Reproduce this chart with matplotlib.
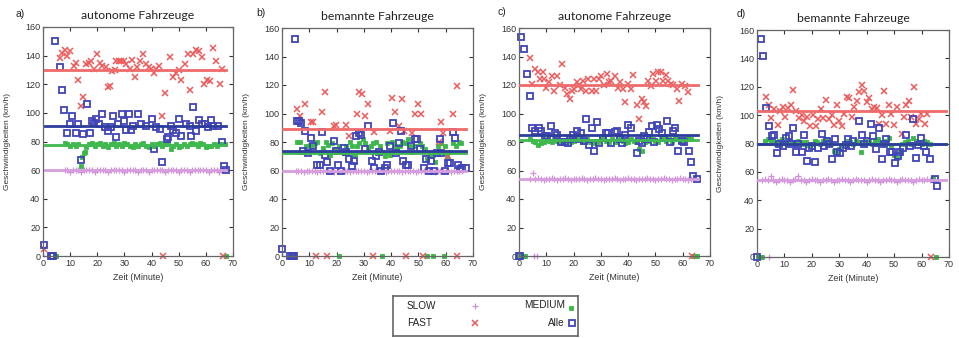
import matplotlib
matplotlib.use("Agg")
import matplotlib.pyplot as plt
import numpy as np

plt.rcParams["font.family"] = ["Liberation Sans", "DejaVu Sans"]

# ---------------- data ----------------
# panel a) autonome Fahrzeuge
A_ALLE_T = [0.3, 2.8, 3.3, 3.8, 4.5, 6.1, 7.0, 7.7, 9.0, 10.0, 10.8, 12.0, 13.0, 13.9, 14.7,
            16.3, 17.2, 18.0, 18.8, 19.7, 20.5, 21.7, 23.0, 24.0, 25.2, 25.8, 26.8, 27.6, 29.0,
            30.0, 30.7, 31.7, 32.6, 33.2, 35.1, 36.2, 38.0, 40.0, 40.8, 41.8, 43.0, 44.0, 45.5,
            46.0, 47.3, 48.0, 49.1, 50.0, 51.0, 52.5, 54.0, 54.7, 55.3, 56.5, 57.4, 58.4, 59.6,
            60.8, 62.0, 62.7, 64.5, 65.8, 66.6, 67.6]
A_ALLE = [8, 0, 0, 0, 150, 132, 116, 102, 86, 92, 98, 86, 92, 67, 85,
          106, 86, 94, 93, 96, 92, 99, 90, 87, 90, 98, 83, 92, 99,
          94, 88, 99, 88, 91, 99, 92, 91, 96, 75, 90, 89, 66, 82,
          83, 91, 88, 86, 96, 84, 92, 91, 84, 104, 87, 95, 92, 92,
          90, 95, 91, 91, 80, 63, 60]
A_FAST_T = [0.3, 6.1, 7.0, 8.0, 9.0, 9.8, 11.3, 12.0, 12.9, 13.9, 14.7, 15.7, 16.8, 17.8, 18.9,
            19.9, 20.9, 21.9, 23.1, 24.0, 24.8, 25.6, 26.4, 27.0, 28.0, 28.9, 29.7, 30.7, 31.9,
            32.8, 33.8, 34.8, 35.9, 36.9, 38.1, 39.0, 39.9, 40.8, 41.8, 42.8, 44.0, 44.2, 45.1,
            46.9, 47.9, 48.9, 50.0, 51.0, 52.2, 53.4, 54.3, 55.3, 56.5, 57.4, 58.4, 59.2, 60.4,
            61.4, 62.7, 63.9, 65.1, 66.1, 66.3]
A_FAST = [5, 138, 142, 144, 140, 143, 133, 135, 123, 105, 111, 134, 135, 136, 131,
          141, 135, 133, 132, 118, 119, 129, 130, 136, 136, 136, 136, 134, 131,
          137, 125, 132, 136, 141, 134, 132, 131, 128, 131, 133, 98, 0, 114,
          139, 125, 128, 130, 123, 134, 141, 116, 141, 144, 143, 139, 120, 123,
          122, 145, 136, 120, 131, 0]
A_MEDIUM_T = [4.3, 4.8] + list(range(8, 68)) + [14.5, 15.3, 67.6]
A_MEDIUM = [0, 0,
            79, 78, 77, 78, 77, 78, 63, 72, 76, 78, 79, 77, 78, 79, 77, 78, 76, 78,
            79, 77, 78, 77, 79, 78, 77, 76, 78, 77, 78, 79, 77, 76, 78, 77, 78, 79,
            77, 78, 79, 75, 77, 78, 76, 77, 78, 77, 78, 79, 78, 77, 79, 78, 76, 77,
            77, 78, 77, 78, 78, 78,
            69, 73, 0]
A_SLOW_T = list(range(8, 68))
A_SLOW = [60, 60, 59, 60, 60, 60, 59, 60, 60, 60, 60, 59, 60, 60, 60, 60, 59, 60, 60, 60,
          60, 60, 59, 60, 60, 60, 60, 59, 60, 60, 60, 59, 60, 60, 60, 60, 60, 59, 60, 60,
          60, 60, 59, 60, 60, 60, 59, 60, 60, 60, 60, 60, 60, 59, 60, 60, 60, 59, 60, 60]
A_MEANS = {"SLOW": 60, "MEDIUM": 77.5, "FAST": 130, "Alle": 91}
A_SPAN = (0.8, 67.5)

# panel b) bemannte Fahrzeuge
B_ALLE_T = [0.1, 3.0, 3.5, 4.0, 4.5, 4.6, 5.5, 6.2, 7.1, 7.7, 8.5, 9.5, 10.5, 11.4, 12.9, 13.8,
            14.7, 15.6, 16.5, 17.5, 18.9, 19.9, 20.5, 21.7, 22.7, 23.6, 24.4, 25.6, 26.4, 27.2,
            28.1, 29.0, 30.3, 31.5, 33.0, 33.7, 34.6, 35.5, 36.4, 37.6, 38.6, 39.7, 40.7, 41.9,
            42.7, 43.7, 44.3, 45.3, 46.2, 47.4, 48.6, 49.6, 50.7, 51.9, 52.9, 53.8, 54.7, 55.7,
            56.8, 57.8, 58.4, 59.8, 60.8, 61.7, 62.6, 63.5, 64.5, 65.3, 66.0, 67.3]
B_ALLE = [5, 0, 0, 0, 0, 152, 95, 95, 93, 74, 88, 72, 83, 77, 64, 64,
          87, 71, 66, 60, 81, 74, 64, 60, 76, 73, 68, 63, 67, 84,
          86, 85, 75, 91, 67, 62, 70, 73, 60, 62, 64, 77, 93, 72,
          79, 88, 67, 64, 64, 77, 82, 82, 75, 62, 68, 60, 67, 60,
          72, 82, 72, 60, 65, 65, 87, 83, 64, 61, 62, 62]
B_FAST_T = [5.5, 6.5, 8.5, 10.5, 11.4, 12.5, 14.8, 15.6, 16.5, 19.0, 19.9, 23.3, 24.4, 27.6,
            28.4, 29.4, 30.3, 31.5, 33.5, 33.9, 39.4, 40.4, 41.3, 42.9, 44.0, 44.7, 45.5, 47.7,
            48.9, 49.8, 51.0, 51.5, 57.4, 58.1, 59.0, 61.0, 62.6, 64.2, 64.0]
B_FAST = [103, 98, 107, 94, 94, 0, 101, 115, 0, 91, 92, 92, 84, 100,
          115, 114, 98, 107, 0, 87, 88, 111, 101, 91, 110, 88, 0, 86,
          100, 107, 100, 0, 80, 94, 86, 70, 100, 119, 0]
B_MEDIUM_T = [3.8, 4.4, 21.0, 36.5, 53.0, 55.5, 59.5,
              5.6, 6.5, 8.9, 10.1, 11.1, 12.0, 12.8, 13.8, 15.0, 16.0, 16.8, 17.5, 18.4, 19.3,
              20.9, 21.7, 22.6, 23.6, 24.8, 25.6, 26.6, 27.6, 28.4, 29.7, 30.6, 31.7, 32.5,
              33.3, 34.6, 35.8, 36.8, 37.6, 38.6, 39.4, 40.4, 41.3, 42.2, 43.1, 44.1, 45.2,
              46.2, 47.0, 47.7, 48.6, 50.4, 51.4, 52.3, 53.1, 54.1, 55.3, 56.2, 57.1, 58.4,
              59.6, 60.4, 61.7, 62.6, 63.9, 64.8, 65.7]
B_MEDIUM = [0, 0, 0, 0, 0, 0, 0,
            80, 80, 77, 78, 77, 79, 80, 72, 76, 80, 78, 71, 79, 75,
            77, 73, 72, 77, 80, 77, 71, 77, 79, 82, 79, 75, 77,
            79, 80, 77, 73, 70, 79, 71, 80, 77, 75, 77, 80, 79,
            82, 77, 73, 77, 79, 77, 75, 68, 70, 71, 66, 77, 79,
            77, 70, 73, 79, 77, 80, 79]
B_SLOW_T = list(range(5, 67))
B_SLOW = [60, 60, 60, 59, 60, 60, 60, 60, 59, 60, 60, 60, 60, 60, 59, 60, 60, 60, 60, 60,
          59, 60, 60, 60, 60, 60, 59, 60, 60, 60, 60, 60, 60, 59, 60, 60, 60, 60, 60, 59,
          60, 60, 60, 60, 59, 60, 60, 60, 60, 60, 60, 59, 60, 60, 60, 60, 60, 59, 60, 60,
          60, 60]
B_MEANS = {"SLOW": 60, "MEDIUM": 72.5, "FAST": 89, "Alle": 74}
B_SPAN = (0.5, 67.5)

# panel c) autonome Fahrzeuge
C_ALLE_T = [0.0, 0.5, 0.9, 1.8, 2.9, 3.9, 4.9, 5.8, 7.3, 8.2, 9.7, 10.4, 11.9, 13.1, 14.1, 15.5,
            16.8, 18.0, 18.6, 19.8, 21.1, 21.9, 22.9, 23.7, 24.7, 25.7, 26.8, 27.4, 28.6, 29.4,
            30.8, 31.8, 32.7, 33.9, 35.1, 36.0, 37.0, 37.9, 39.0, 40.0, 41.2, 43.1, 43.9, 44.9,
            45.9, 46.8, 47.7, 48.8, 49.6, 50.4, 51.3, 52.3, 53.2, 54.3, 55.3, 56.3, 57.2, 58.4,
            59.6, 60.6, 62.3, 63.0, 63.9, 65.4]
C_ALLE = [0, 0, 154, 145, 128, 112, 90, 88, 90, 88, 84, 84, 91, 86, 85, 80,
          80, 79, 82, 85, 88, 82, 86, 81, 96, 78, 90, 74, 94, 79,
          83, 86, 86, 79, 87, 88, 82, 79, 85, 92, 90, 72, 81, 79,
          84, 82, 87, 91, 80, 92, 89, 86, 83, 95, 80, 88, 90, 74,
          81, 80, 74, 66, 56, 54]
C_FAST_T = [3.9, 4.9, 5.8, 7.0, 7.6, 8.8, 9.2, 10.0, 11.0, 12.1, 12.9, 14.1, 14.9, 15.9, 16.8,
            17.7, 18.6, 19.6, 20.2, 21.1, 21.9, 22.6, 23.5, 24.5, 25.3, 26.6, 27.4, 28.4, 29.3,
            30.2, 31.1, 32.1, 33.0, 33.9, 35.1, 36.1, 37.0, 38.2, 39.0, 40.0, 40.9, 41.9, 43.1,
            43.9, 44.9, 45.8, 46.4, 47.4, 48.2, 49.2, 50.1, 51.0, 52.0, 52.9, 53.9, 54.7, 55.7,
            56.5, 57.8, 58.6, 59.6, 60.8, 61.8, 63.5]
C_FAST = [139, 121, 131, 129, 124, 129, 124, 118, 122, 126, 116, 126, 120, 135, 118,
          114, 110, 116, 117, 122, 120, 117, 123, 116, 124, 116, 124, 116, 124,
          126, 120, 128, 122, 123, 126, 118, 122, 117, 108, 121, 117, 127, 106,
          96, 110, 108, 105, 123, 119, 128, 123, 129, 129, 123, 127, 123, 121,
          120, 117, 109, 121, 119, 115, 0]
C_MEDIUM_T = [0.2, 0.7, 1.2, 1.7, 2.2] + list(range(4, 64)) + [63.6, 64.1, 64.6, 65.1]
C_MEDIUM = [0, 0, 0, 0, 0,
            82, 81, 80, 78, 79, 80, 82, 81, 80, 82, 81, 80, 79, 81, 82, 80, 81, 83, 82, 80,
            81, 82, 80, 81, 79, 80, 82, 83, 81, 80, 82, 81, 80, 82, 81, 79, 80, 82, 81, 80,
            75, 74, 80, 81, 83, 82, 81, 80, 82, 84, 81, 82, 80, 83, 82, 81, 80, 82, 83, 82,
            0, 0, 0, 0]
C_SLOW_T = [5.5, 6.5] + list(range(4, 65))
C_SLOW = [0, 0,
          54, 58, 54, 55, 54, 53, 54, 54, 55, 54, 53, 54, 54, 55, 54, 53, 54, 54, 54, 55,
          54, 53, 54, 54, 55, 54, 54, 53, 54, 54, 54, 55, 54, 53, 54, 54, 55, 54, 54, 53,
          54, 54, 54, 55, 54, 54, 53, 54, 54, 55, 54, 54, 53, 54, 54, 55, 54, 54, 53, 54,
          54]
C_MEANS = {"SLOW": 54, "MEDIUM": 81.5, "FAST": 120, "Alle": 85}
C_SPAN = (0.5, 65.5)

# panel d) bemannte Fahrzeuge
D_ALLE_T = [0.0, 1.5, 2.2, 3.4, 4.2, 5.4, 6.1, 7.3, 8.2, 9.3, 10.5, 11.5, 12.3, 13.3, 14.3,
            15.1, 16.3, 17.3, 18.4, 19.1, 20.0, 21.2, 22.4, 23.6, 24.5, 25.4, 26.4, 27.2, 28.5,
            29.3, 30.3, 31.2, 32.4, 33.3, 34.3, 35.1, 37.3, 38.1, 39.0, 40.0, 41.4, 42.4, 43.3,
            44.3, 45.4, 46.4, 47.2, 48.4, 49.4, 50.2, 51.5, 52.1, 53.3, 54.5, 55.7, 56.7, 57.9,
            58.7, 59.7, 60.8, 61.7, 63.0, 64.8, 65.6]
D_ALLE = [0, 154, 142, 105, 92, 85, 86, 73, 80, 78, 84, 85, 80, 91, 74,
          80, 74, 86, 68, 77, 78, 67, 77, 87, 78, 82, 80, 69, 83,
          74, 73, 77, 79, 83, 78, 82, 96, 86, 80, 82, 94, 85, 76,
          91, 69, 80, 83, 74, 74, 66, 71, 74, 77, 86, 78, 97, 70,
          79, 84, 78, 74, 69, 55, 50]
D_FAST_T = [3.4, 4.2, 5.1, 6.1, 7.5, 8.5, 9.3, 10.3, 11.3, 12.3, 13.3, 14.3, 15.4, 16.3, 17.3,
            18.4, 19.4, 20.3, 21.4, 22.4, 23.4, 24.2, 25.2, 26.3, 27.2, 28.2, 29.1, 29.9, 30.9,
            31.8, 32.9, 33.7, 34.5, 35.5, 36.3, 37.3, 38.1, 39.0, 40.0, 41.0, 41.8, 42.6, 43.6,
            44.6, 45.4, 46.2, 47.2, 48.1, 49.0, 50.0, 51.1, 52.7, 53.6, 54.5, 55.5, 56.3, 57.1,
            57.9, 59.1, 59.9, 61.1, 62.0, 63.3]
D_FAST = [113, 107, 98, 104, 93, 103, 106, 99, 105, 107, 118, 103, 98, 100, 96,
          99, 92, 100, 92, 97, 104, 98, 111, 97, 100, 93, 107, 96, 92,
          101, 113, 112, 99, 106, 110, 116, 121, 117, 109, 112, 104, 106, 105,
          94, 100, 117, 94, 107, 101, 93, 106, 87, 99, 107, 110, 99, 120,
          94, 97, 101, 94, 101, 0]
D_MEDIUM_T = [0.2, 0.7, 1.2, 1.7] + list(range(3, 65)) + [65.3]
D_MEDIUM = [0, 0, 0, 0,
            82, 83, 82, 81, 80, 82, 83, 81, 80, 82, 81, 80, 82, 81, 80, 81, 79, 80, 82, 81,
            80, 82, 83, 81, 80, 75, 73, 76, 79, 80, 82, 81, 80, 82, 81, 74, 80, 82, 81, 80,
            82, 83, 81, 80, 82, 84, 79, 72, 70, 75, 80, 81, 82, 80, 84, 82, 81, 80, 82, 81,
            80, 56,
            0]
D_SLOW_T = [4.5] + list(range(2, 65))
D_SLOW = [0,
          54, 55, 54, 57, 54, 53, 54, 55, 54, 54, 53, 54, 55, 57, 54, 54, 53, 54, 55, 54,
          54, 53, 54, 54, 55, 54, 53, 54, 54, 55, 54, 54, 53, 54, 55, 54, 54, 54, 53, 54,
          55, 54, 54, 53, 54, 54, 55, 54, 54, 53, 54, 55, 54, 54, 54, 53, 54, 55, 54, 54,
          55, 54, 54]
D_MEANS = {"SLOW": 54, "MEDIUM": 79.5, "FAST": 103, "Alle": 80}
D_SPAN = (0.5, 69.0)

TITLES = ["autonome Fahrzeuge", "bemannte Fahrzeuge", "autonome Fahrzeuge", "bemannte Fahrzeuge"]
PANEL_LABELS = ["a)", "b)", "c)", "d)"]

# ---------------- styles ----------------
STYLE = {
    "SLOW": dict(marker="+", ms=4.0, mew=0.9, color="#d08fd8", linestyle="none"),
    "MEDIUM": dict(marker="s", ms=3.3, mew=0.6, color="#3cb84a", mec="#3cb84a", linestyle="none"),
    "FAST": dict(marker="x", ms=3.7, mew=1.1, color="#ec5a5c", linestyle="none"),
    "Alle": dict(marker="s", ms=4.6, mew=1.3, mfc="none", mec="#4044b8", linestyle="none"),
}
LINE_COLORS = {"SLOW": "#d69ede", "MEDIUM": "#42b851", "FAST": "#ef6a6a", "Alle": "#2d3d9e"}

AX_RECTS = [
    [43 / 959, 1 - 256 / 338, 190 / 959, 229 / 338],
    [282 / 959, 1 - 256 / 338, 191 / 959, 228 / 338],
    [519 / 959, 1 - 256 / 338, 191 / 959, 228 / 338],
    [757 / 959, 1 - 257 / 338, 192 / 959, 227 / 338],
]
LABEL_POS = [(15, 14), (256, 13), (497, 12), (737, 14)]


def draw_panel(ax, series, means, span, title):
    for name in ["SLOW", "MEDIUM", "FAST", "Alle"]:
        t, v = series[name]
        ax.plot(t, v, zorder=2, clip_on=False, **STYLE[name])
    for name in ["SLOW", "MEDIUM", "Alle", "FAST"]:
        ax.plot(span, [means[name], means[name]], color=LINE_COLORS[name], lw=2.0, zorder=3)

    ax.set_xlim(0, 70)
    ax.set_ylim(0, 160)
    ax.set_xticks(np.arange(0, 71, 10))
    ax.set_yticks(np.arange(0, 161, 20))
    ax.tick_params(direction="in", length=3, width=0.8, top=True, right=True,
                   labelsize=6.5, colors="#333333", pad=2)
    for sp in ax.spines.values():
        sp.set_color("#666666")
        sp.set_linewidth(0.9)
    ax.set_title(title, fontsize=8.8, family=["Lato", "DejaVu Sans"], color="#222222", pad=6)
    ax.set_xlabel("Zeit (Minute)", fontsize=6.4, color="#333333", labelpad=4)
    ax.set_ylabel("Geschwindigkeiten (km/h)", fontsize=6.0, color="#333333")
    ax.yaxis.set_label_coords(-0.17, 0.5)


fig = plt.figure(figsize=(9.59, 3.38), dpi=100)

panels = [
    ({"SLOW": (A_SLOW_T, A_SLOW), "MEDIUM": (A_MEDIUM_T, A_MEDIUM),
      "FAST": (A_FAST_T, A_FAST), "Alle": (A_ALLE_T, A_ALLE)}, A_MEANS, A_SPAN),
    ({"SLOW": (B_SLOW_T, B_SLOW), "MEDIUM": (B_MEDIUM_T, B_MEDIUM),
      "FAST": (B_FAST_T, B_FAST), "Alle": (B_ALLE_T, B_ALLE)}, B_MEANS, B_SPAN),
    ({"SLOW": (C_SLOW_T, C_SLOW), "MEDIUM": (C_MEDIUM_T, C_MEDIUM),
      "FAST": (C_FAST_T, C_FAST), "Alle": (C_ALLE_T, C_ALLE)}, C_MEANS, C_SPAN),
    ({"SLOW": (D_SLOW_T, D_SLOW), "MEDIUM": (D_MEDIUM_T, D_MEDIUM),
      "FAST": (D_FAST_T, D_FAST), "Alle": (D_ALLE_T, D_ALLE)}, D_MEANS, D_SPAN),
]

for i, (series, means, span) in enumerate(panels):
    ax = fig.add_axes(AX_RECTS[i])
    draw_panel(ax, series, means, span, TITLES[i])
    lx, ly = LABEL_POS[i]
    fig.text(lx / 959, 1 - ly / 338, PANEL_LABELS[i], fontsize=7.5, ha="left", va="center",
             color="#222222")

# legend box drawn by hand (two columns, like the original)
lax = fig.add_axes([393 / 959, 1 - 336 / 338, 185 / 959, 40 / 338])
lax.set_xlim(0, 1)
lax.set_ylim(0, 1)
lax.set_xticks([])
lax.set_yticks([])
for sp in lax.spines.values():
    sp.set_color("#666666")
    sp.set_linewidth(1.2)
entries = [
    ("SLOW", 0.076, 0.76, "left", 0.443, 0.76),
    ("FAST", 0.076, 0.33, "left", 0.443, 0.33),
    ("MEDIUM", 0.93, 0.78, "right", 0.962, 0.70),
    ("Alle", 0.93, 0.33, "right", 0.968, 0.33),
]
for name, tx, ty, ha, mx, my in entries:
    lax.text(tx, ty, name, fontsize=7.2, ha=ha, va="center", color="#222222")
    lax.plot([mx], [my], **STYLE[name])

fig.savefig("out.png", dpi=100)
